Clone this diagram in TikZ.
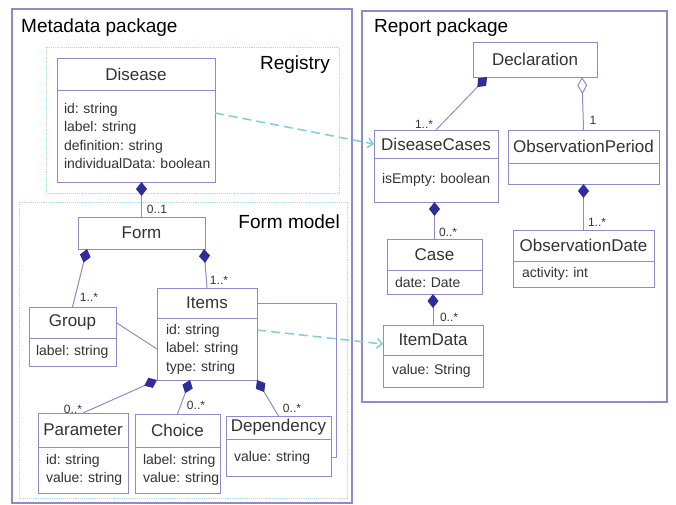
\documentclass[tikz,border=0pt]{standalone}
\usepackage{fontspec}
\setmainfont{Liberation Sans}
\usetikzlibrary{arrows.meta, positioning, calc}
\definecolor{umlline}{HTML}{8C8CCC}
\definecolor{umlnavy}{HTML}{2E2E96}
\definecolor{umlcyan}{HTML}{80CDD5}
\definecolor{pkgdots}{HTML}{A6DCE2}
\definecolor{umltext}{HTML}{333333}
\frenchspacing

\begin{document}
\begin{tikzpicture}[x=1pt, y=-1pt,
    pkgbox/.style={draw=umlline, line width=1.1pt},
    pkgdotted/.style={draw=pkgdots, densely dotted, line width=0.9pt},
    pkgtitle/.style={font=\fontsize{19}{22}\selectfont, text=black, inner sep=0pt, anchor=base west},
    classhead/.style={rectangle, draw=umlline, fill=white, line width=1pt, inner sep=0pt, outer sep=0pt, anchor=north west, font=\fontsize{17}{20}\selectfont, text=umltext},
    classattr/.style={rectangle, draw=umlline, fill=white, line width=1pt, inner xsep=8pt, inner ysep=0pt, outer sep=0pt, align=left, font=\fontsize{14}{18.5}\selectfont, text=umltext},
    mult/.style={font=\fontsize{12}{14}\selectfont, text=umltext, inner sep=0pt},
    comp/.style={{Diamond[length=14pt, width=11pt, color=umlnavy, fill=umlnavy]}-, draw=umlline, line width=1pt},
    aggr/.style={{Diamond[open, length=17pt, width=10pt, color=umlline, fill=white]}-, draw=umlline, line width=1pt},
    assoc/.style={draw=umlline, line width=1pt},
    depend/.style={-{Straight Barb[length=5pt, width=10pt]}, draw=umlcyan, line width=1.5pt, dash pattern=on 9pt off 5pt}
]
\useasboundingbox (0,0) rectangle (676,504);

% Packages
\draw[pkgbox] (12,9) rectangle (352,503);
\draw[pkgbox] (362,11) rectangle (667,402);
\draw[pkgdotted] (46,47) rectangle (339,193);
\draw[pkgdotted] (19,202) rectangle (347,498);
\node[pkgtitle] (metatitle) at (21,32) {Metadata package};
\node[pkgtitle] (reporttitle) at (374,32) {Report package};
\node[pkgtitle, anchor=base east] (registrytitle) at (330,69) {Registry};
\node[pkgtitle, anchor=base east] (formtitle) at (340,228) {Form model};

% Registry
\node[classhead, minimum width=158pt, minimum height=32pt] (diseasehead) at (57,58) {Disease};
\node[classattr, inner xsep=7pt, text width=144pt, minimum height=92pt, below=0pt of diseasehead] (diseaseattr) {id:~string\\label:~string\\definition:~string\\individualData:~boolean};

% Form model
\node[classhead, minimum width=127pt, minimum height=32pt] (formhead) at (78,217) {Form};

\node[classhead, minimum width=87pt, minimum height=31pt] (grouphead) at (29,307) {Group};
\node[classattr, inner xsep=7pt, text width=73pt, minimum height=28pt, below=0pt of grouphead] (groupattr) {label:~string};

\node[classhead, minimum width=100pt, minimum height=30pt] (itemshead) at (157,288) {Items};
\node[classattr, inner xsep=9pt, text width=82pt, minimum height=62pt, below=0pt of itemshead] (itemsattr) {id:~string\\label:~string\\type:~string};

\node[classhead, minimum width=90pt, minimum height=34pt] (paramhead) at (38,413) {Parameter};
\node[classattr, text width=74pt, minimum height=46pt, below=0pt of paramhead] (paramattr) {id:~string\\value:~string};

\node[classhead, minimum width=85pt, minimum height=33pt] (choicehead) at (135,414) {Choice};
\node[classattr, text width=69pt, minimum height=46pt, below=0pt of choicehead] (choiceattr) {label:~string\\value:~string};

\node[classhead, minimum width=105pt, minimum height=23pt] (dephead) at (226,416) {Dependency};
\node[classattr, text width=89pt, minimum height=37pt, below=0pt of dephead] (depattr) {value:~string};

% Report package
\node[classhead, minimum width=124pt, minimum height=35pt] (declhead) at (473,42) {Declaration};

\node[classhead, minimum width=124pt, minimum height=28pt] (dchead) at (374,130) {DiseaseCases};
\node[classattr, text width=108pt, minimum height=44pt, below=0pt of dchead] (dcattr) {isEmpty:~boolean};

\node[classhead, minimum width=151pt, minimum height=33pt] (ophead) at (508,130) {ObservationPeriod};
\node[classattr, text width=135pt, minimum height=21pt, below=0pt of ophead] (opattr) {};

\node[classhead, minimum width=95pt, minimum height=31pt] (casehead) at (387,239) {Case};
\node[classattr, text width=79pt, minimum height=24pt, below=0pt of casehead] (caseattr) {date:~Date};

\node[classhead, minimum width=100pt, minimum height=30pt] (idhead) at (383,325) {ItemData};
\node[classattr, inner xsep=9pt, text width=82pt, minimum height=32pt, below=0pt of idhead] (idattr) {value:~String};

\node[classhead, minimum width=141pt, minimum height=31pt] (odhead) at (513,230) {ObservationDate};
\node[classattr, inner xsep=9pt, text width=123pt, minimum height=26pt, below=0pt of odhead] (odattr) {activity:~int};

% Compositions
\draw[comp] (diseaseattr.south -| formhead.north) -- (formhead.north);
\draw[comp] ([xshift=9pt]formhead.south west) -- (grouphead.north);
\draw[comp] ([xshift=-1pt]formhead.south east) -- (itemshead.north);
\draw[comp] (itemsattr.south west) -- (paramhead.north);
\draw[comp] ([xshift=33pt]itemsattr.south west) -- (choicehead.north);
\draw[comp] (itemsattr.south east) -- (dephead.north);
\draw[comp] ([xshift=14pt]declhead.south west) -- (dchead.north);
\draw[aggr] ([xshift=-15pt]declhead.south east) -- (ophead.north);
\draw[comp] (dcattr.south -| casehead.north) -- (casehead.north);
\draw[comp] (caseattr.south -| idhead.north) -- (idhead.north);
\draw[comp] (opattr.south) -- (odhead.north);

% Associations
\draw[assoc] (grouphead.east) -- (itemsattr.west);
\coordinate (loop) at (336,303);
\draw[assoc] (itemshead.east) -- (loop) |- (depattr.east);

% Dependencies between packages
\draw[depend] ([yshift=23pt]diseaseattr.east) -- (dchead.west);
\draw[depend] ([yshift=19pt]itemsattr.east) -- ([yshift=-4pt]idhead.west);

% Multiplicities
\node[mult] (m1) at (157,209) {0..1};
\node[mult] (m2) at (89,297) {1..*};
\node[mult] (m3) at (219,280) {1..*};
\node[mult] (m4) at (73,409) {0..*};
\node[mult] (m5) at (196,405) {0..*};
\node[mult] (m6) at (292,408) {0..*};
\node[mult] (m7) at (424,124) {1..*};
\node[mult] (m8) at (593,120) {1};
\node[mult] (m9) at (448,232) {0..*};
\node[mult] (m10) at (449,317) {0..*};
\node[mult] (m11) at (597,222) {1..*};

\end{tikzpicture}
\end{document}
